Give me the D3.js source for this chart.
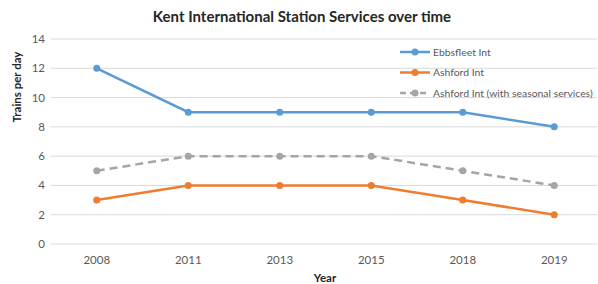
<!DOCTYPE html>
<html>
<head>
<meta charset="utf-8">
<script src="https://cdn.jsdelivr.net/npm/d3@7"></script>
<style>
  body { margin: 0; background: #fff; }
  text { font-family: Lato, "Open Sans", sans-serif; }
</style>
</head>
<body>
<svg id="chart" width="598" height="284"></svg>
<script>
// data
const years = ["2008", "2011", "2013", "2015", "2018", "2019"]
const ebbsfleet = [12, 9, 9, 9, 9, 8]
const ashford = [3, 4, 4, 4, 3, 2]
const ashfordSeasonal = [5, 6, 6, 6, 5, 4]
const yTicks = [0, 2, 4, 6, 8, 10, 12, 14]
const seriesNames = ["Ebbsfleet Int", "Ashford Int", "Ashford Int (with seasonal services)"]

var svg = d3.select("#chart")
var plotLeft = 51, plotRight = 600, plotTop = 39, plotBottom = 244

var x = d3.scaleBand().domain(years).range([plotLeft, plotRight])
var y = d3.scaleLinear().domain([0, 14]).range([plotBottom, plotTop])

// gridlines
svg.selectAll(".grid").data(yTicks).enter().append("line")
  .attr("x1", plotLeft).attr("x2", 597)
  .attr("y1", d => y(d)).attr("y2", d => y(d))
  .attr("stroke", "#d9d9d9").attr("stroke-width", 1)

// y labels
svg.selectAll(".ylab").data(yTicks).enter().append("text")
  .text(d => d).attr("x", 45).attr("y", d => y(d)).attr("dy", "0.35em")
  .attr("text-anchor", "end").style("font-size", "11.5px").style("fill", "#595959")

// x labels
svg.selectAll(".xlab").data(years).enter().append("text")
  .text(d => d).attr("x", d => x(d) + x.bandwidth() / 2).attr("y", 264)
  .attr("text-anchor", "middle").style("font-size", "11.5px").style("fill", "#595959")

// titles
svg.append("text").text("Kent International Station Services over time")
  .attr("x", 302).attr("y", 22).attr("text-anchor", "middle")
  .style("font-size", "15px").style("font-weight", "bold").style("fill", "#262626")
svg.append("text").text("Year").attr("x", 325).attr("y", 282).attr("text-anchor", "middle")
  .style("font-size", "11.5px").style("font-weight", "bold").style("fill", "#262626")
svg.append("text").text("Trains per day").attr("transform", "translate(21,87) rotate(-90)")
  .attr("text-anchor", "middle").style("font-size", "11.5px").style("font-weight", "bold").style("fill", "#262626")

var series = [
  {values: ebbsfleet, color: "#5b9bd5", dash: null},
  {values: ashford, color: "#ed7d31", dash: null},
  {values: ashfordSeasonal, color: "#a5a5a5", dash: "8,5"}
]

var line = d3.line().x((d, i) => x(years[i]) + x.bandwidth() / 2).y(d => y(d))

series.forEach(function(s) {
  svg.append("path").attr("d", line(s.values)).attr("fill", "none")
    .attr("stroke", s.color).attr("stroke-width", 2.5).attr("stroke-dasharray", s.dash)
  svg.selectAll(null).data(s.values).enter().append("circle")
    .attr("cx", (d, i) => x(years[i]) + x.bandwidth() / 2).attr("cy", d => y(d))
    .attr("r", 3.5).attr("fill", s.color)
})

// legend
series.forEach(function(s, i) {
  var ly = 52 + i * 20.5
  svg.append("line").attr("x1", 400).attr("x2", 430).attr("y1", ly).attr("y2", ly)
    .attr("stroke", s.color).attr("stroke-width", 2.5).attr("stroke-dasharray", s.dash ? "6,4" : null)
  svg.append("circle").attr("cx", 415).attr("cy", ly).attr("r", 3.5).attr("fill", s.color)
  svg.append("text").text(seriesNames[i]).attr("x", 433).attr("y", ly).attr("dy", "0.35em")
    .style("font-size", "10.4px").style("fill", "#595959")
})
</script>
</body>
</html>
